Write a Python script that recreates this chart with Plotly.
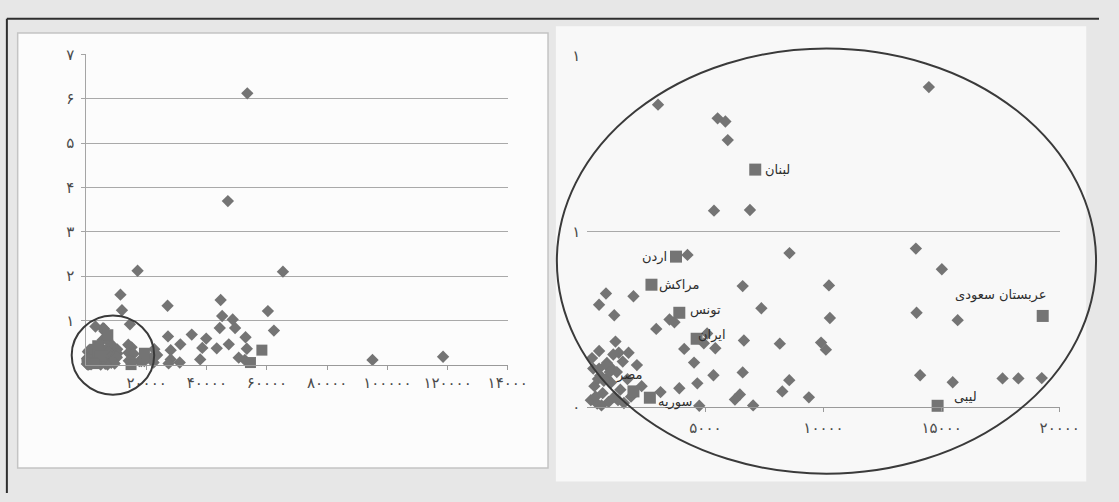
import numpy as np
import plotly.graph_objects as go

W, H = 1119, 502

# ---- data: countries plotted as diamonds (unlabelled) ----
diamond_x = [
    14460, 2994, 5517, 5846, 5946, 5364, 6886, 4241, 8560, 13910, 15010, 6578,
    10230, 790, 1954, 498, 1140, 7370, 10270, 13940, 15680, 3480, 3688, 2918,
    5072, 4934, 5419, 6630, 8150, 9896, 10100, 4103, 4519, 1192, 1331, 1746,
    1053, 5340, 6578, 8550, 8255, 9380, 7020, 6459, 6250, 4657, 4740, 3895,
    3100, 14090, 15470, 17580, 18250, 19240, 500, 830, 500, 830,
    150, 300, 420, 550, 650, 800, 900, 1000, 1150, 1250, 1400, 1550, 1700,
    250, 350, 950, 1300, 700, 1850, 450, 2100, 1500, 2300, 200, 600, 1100,
    17000, 65300, 53450, 47000, 11300, 11800, 26960, 44600, 45100, 48600,
    44300, 49400, 60300, 62300, 35000, 39800, 52870, 27100, 31200, 38500,
    43300, 47300, 53300, 22550, 28000, 37800, 50600, 28000, 31000, 27300,
    95050, 118500, 52640, 21500, 22300, 23500,
]
diamond_y = [
    0.912, 0.862, 0.823, 0.814, 0.761, 0.560, 0.562, 0.434, 0.439, 0.452, 0.393, 0.345,
    0.347, 0.324, 0.316, 0.292, 0.262, 0.282, 0.254, 0.269, 0.248, 0.250, 0.242, 0.223,
    0.210, 0.182, 0.168, 0.190, 0.181, 0.184, 0.164, 0.166, 0.127, 0.187, 0.155, 0.155,
    0.109, 0.091, 0.099, 0.077, 0.045, 0.028, 0.005, 0.036, 0.022, 0.068, 0.004, 0.054,
    0.043, 0.091, 0.071, 0.082, 0.082, 0.083, 0.160, 0.126, 0.110, 0.082,
    0.020, 0.060, 0.010, 0.090, 0.040, 0.120, 0.015, 0.070, 0.030, 0.100, 0.050, 0.012, 0.080,
    0.110, 0.030, 0.100, 0.020, 0.075, 0.030, 0.080, 0.120, 0.130, 0.060, 0.140, 0.005, 0.150,
    2.12, 2.10, 6.12, 3.69, 1.58, 1.23, 1.33, 1.46, 1.10, 1.02,
    0.83, 0.83, 1.21, 0.77, 0.68, 0.59, 0.62, 0.64, 0.46, 0.38,
    0.37, 0.46, 0.36, 0.35, 0.33, 0.12, 0.16, 0.12, 0.05, 0.03,
    0.11, 0.18, 0.11, 0.15, 0.05, 0.22,
]

# ---- data: highlighted countries drawn as squares ----
square_x = [7110, 3754, 2716, 3895, 4629, 1954, 2648, 14830, 19280, 58300, 54500]
square_y = [0.677, 0.429, 0.349, 0.269, 0.195, 0.045, 0.027, 0.004, 0.260, 0.33, 0.05]
square_label = ["لبنان", "اردن", "مراکش", "تونس", "ایران", "مصر", "سوریه", "لیبی",
                "عربستان سعودی", "", ""]

# ---- tick labels ----
left_xtick_vals = [20000, 40000, 60000, 80000, 100000, 120000, 140000]
left_xtick_text = ["۲۰۰۰۰", "۴۰۰۰۰", "۶۰۰۰۰", "۸۰۰۰۰", "۱۰۰۰۰۰", "۱۲۰۰۰۰", "۱۴۰۰۰"]
left_ytick_vals = [1, 2, 3, 4, 5, 6, 7]
left_ytick_text = ["۱", "۲", "۳", "۴", "۵", "۶", "۷"]
right_xtick_vals = [5000, 10000, 15000, 20000]
right_xtick_text = ["۵۰۰۰", "۱۰۰۰۰", "۱۵۰۰۰", "۲۰۰۰۰"]
right_ytick_vals = [0, 0.5, 1]
right_ytick_text = ["۰", "۱", "۱"]

MARK = "#747474"
GRID = "#a9a9a9"
TXT = "#4a4a4a"
FONT = "DejaVu Sans"


def px(x):
    return x / W


def py(y):
    return 1 - y / H


dx = np.array(diamond_x, float)
dy = np.array(diamond_y, float)
sx = np.array(square_x, float)
sy = np.array(square_y, float)

# the right chart is a close-up of the lower-left corner
d_in = (dx <= 20000) & (dy <= 1)
s_in = (sx <= 20000) & (sy <= 1)

fig = go.Figure()
fig.add_trace(go.Scatter(x=dx, y=dy, mode="markers", xaxis="x", yaxis="y",
                         marker=dict(symbol="diamond", size=9.5, color=MARK), cliponaxis=False))
fig.add_trace(go.Scatter(x=sx, y=sy, mode="markers", xaxis="x", yaxis="y",
                         marker=dict(symbol="square", size=11, color=MARK), cliponaxis=False))
fig.add_trace(go.Scatter(x=dx[d_in], y=dy[d_in], mode="markers", xaxis="x2", yaxis="y2",
                         marker=dict(symbol="diamond", size=9.5, color=MARK), cliponaxis=False))
fig.add_trace(go.Scatter(x=sx[s_in], y=sy[s_in], mode="markers", xaxis="x2", yaxis="y2",
                         marker=dict(symbol="square", size=12, color=MARK), cliponaxis=False))

# label placement next to each highlighted square
label_pos = {
    "لبنان": dict(xanchor="left", xshift=8, yshift=0),
    "اردن": dict(xanchor="right", xshift=-7, yshift=0),
    "مراکش": dict(xanchor="left", xshift=6, yshift=0),
    "تونس": dict(xanchor="left", xshift=9, yshift=3),
    "ایران": dict(xanchor="left", xshift=-1, yshift=4),
    "مصر": dict(xanchor="center", xshift=-4, yshift=16),
    "سوریه": dict(xanchor="left", xshift=6, yshift=-4),
    "لیبی": dict(xanchor="left", xshift=14, yshift=9),
    "عربستان سعودی": dict(xanchor="center", xshift=-42, yshift=21),
}
annotations = []
for x, y, name in zip(square_x, square_y, square_label):
    if not name:
        continue
    p = label_pos[name]
    annotations.append(dict(x=x, y=y, xref="x2", yref="y2", text=name, showarrow=False,
                            font=dict(family=FONT, size=13, color="#2e2e2e"),
                            xanchor=p["xanchor"], yanchor="middle",
                            xshift=p["xshift"], yshift=p["yshift"]))

shapes = [
    # left chart frame
    dict(type="rect", xref="paper", yref="paper", x0=px(18), x1=px(558), y0=py(476), y1=py(25),
         fillcolor="#fcfcfc", line=dict(color="#c4c4c4", width=1.5), layer="below"),
    # right chart area
    dict(type="rect", xref="paper", yref="paper", x0=px(566), x1=px(1106), y0=py(490), y1=py(18),
         fillcolor="#f8f8f8", line=dict(width=0), layer="below"),
    # outer border
    dict(type="line", xref="paper", yref="paper", x0=px(7), x1=1, y0=py(10), y1=py(10),
         line=dict(color="#2f2f2f", width=2)),
    dict(type="line", xref="paper", yref="paper", x0=px(7), x1=px(7), y0=py(10), y1=0,
         line=dict(color="#2f2f2f", width=2)),
    # highlight circle on the left chart
    dict(type="circle", xref="paper", yref="paper", x0=px(73), x1=px(157), y0=py(400), y1=py(318),
         line=dict(color="#3a3a3a", width=2)),
    # ellipse around the right chart
    dict(type="circle", xref="paper", yref="paper", x0=px(567), x1=px(1116), y0=py(482), y1=py(41),
         line=dict(color="#3a3a3a", width=2)),
]

axis_font = dict(family=FONT, size=15, color=TXT)

fig.update_layout(
    width=W, height=H,
    margin=dict(l=0, r=0, t=0, b=0),
    paper_bgcolor="#e7e7e7",
    plot_bgcolor="rgba(0,0,0,0)",
    showlegend=False,
    shapes=shapes,
    annotations=annotations,
    xaxis=dict(domain=[px(88), px(517)], range=[0, 140000], anchor="y",
               tickvals=left_xtick_vals, ticktext=left_xtick_text, tickfont=axis_font,
               showgrid=False, zeroline=False, showline=True, linecolor="#9a9a9a", linewidth=1,
               ticks="outside", ticklen=4, tickcolor="#9a9a9a", ticklabelstandoff=0),
    yaxis=dict(domain=[py(369), py(47)], range=[0, 7], anchor="x",
               tickvals=left_ytick_vals, ticktext=left_ytick_text, tickfont=axis_font,
               showgrid=True, gridcolor=GRID, gridwidth=1, zeroline=False,
               showline=True, linecolor="#a5a5a5", linewidth=1,
               ticks="outside", ticklen=4, tickcolor="#a5a5a5", ticklabelstandoff=4),
    xaxis2=dict(domain=[px(598), px(1079)], range=[0, 20000], anchor="y2",
                tickvals=right_xtick_vals, ticktext=right_xtick_text, tickfont=axis_font,
                showgrid=False, zeroline=False, showline=True, linecolor="#9a9a9a", linewidth=1,
                ticks="outside", ticklen=4, tickcolor="#9a9a9a", ticklabelstandoff=3),
    yaxis2=dict(domain=[py(413), py(49)], range=[0, 1], anchor="x2",
                tickvals=right_ytick_vals, ticktext=right_ytick_text, tickfont=axis_font,
                showgrid=True, gridcolor=GRID, gridwidth=1, zeroline=False, showline=False,
                ticks="", ticklabelstandoff=6),
)

fig.write_html("out.html")
